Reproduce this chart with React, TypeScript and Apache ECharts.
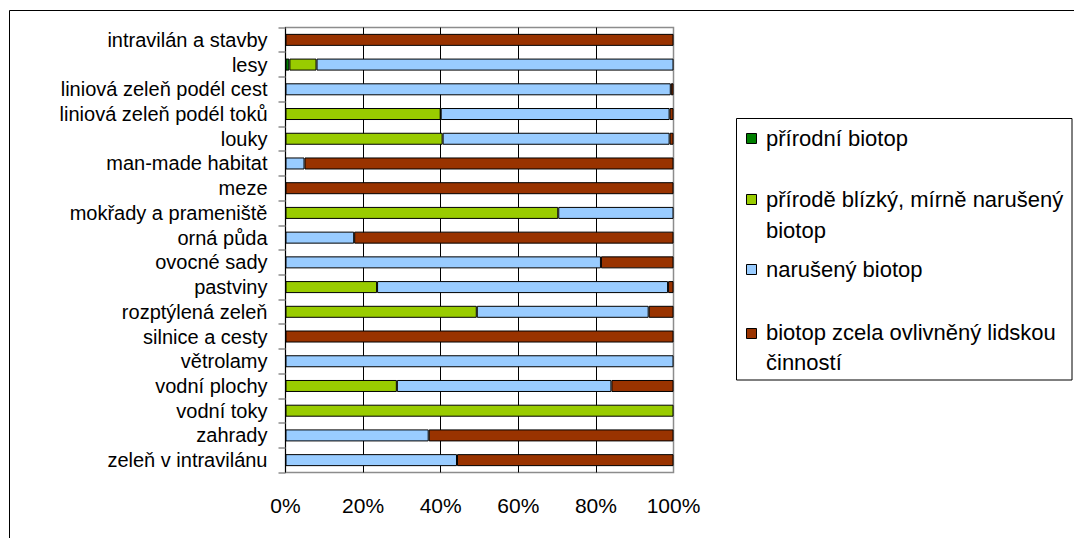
import React, { useEffect, useRef } from "react";
import * as echarts from "echarts";

// Land-use categories (top to bottom)
const categories = [
  "intravilán a stavby",
  "lesy",
  "liniová zeleň podél cest",
  "liniová zeleň podél toků",
  "louky",
  "man-made habitat",
  "meze",
  "mokřady a prameniště",
  "orná půda",
  "ovocné sady",
  "pastviny",
  "rozptýlená zeleň",
  "silnice a cesty",
  "větrolamy",
  "vodní plochy",
  "vodní toky",
  "zahrady",
  "zeleň v intravilánu",
];

const seriesNames = [
  "přírodní biotop",
  "přírodě blízký, mírně narušený biotop",
  "narušený biotop",
  "biotop zcela ovlivněný lidskou činností",
];

// Share of each biotope class, in percent
const prirodni = [0, 1, 0, 0, 0, 0, 0, 0, 0, 0, 0, 0, 0, 0, 0, 0, 0, 0];
const blizky = [0, 7, 0, 40, 40.5, 0, 0, 70.3, 0, 0, 23.6, 49.3, 0, 0, 28.7, 100, 0, 0];
const naruseny = [0, 92, 99.3, 59, 58.5, 4.9, 0, 29.7, 17.7, 81.3, 75, 44.3, 0, 100, 55.3, 0, 36.9, 44.2];
const zcela = [100, 0, 0.7, 1, 1, 95.1, 100, 0, 82.3, 18.7, 1.4, 6.4, 100, 0, 16, 0, 63.1, 55.8];

const xTicks = [0, 20, 40, 60, 80, 100];

const colors = ["#007F00", "#99CC00", "#99CCFF", "#993300"];

const FONT = "'Liberation Sans', Arial, sans-serif";
const FS = 21;
const CAT_FS = 20;
const LEGEND_FS = 22;

export default function App() {
  const ref = useRef<HTMLDivElement>(null);

  useEffect(() => {
    if (!ref.current) return;
    const chart = echarts.init(ref.current, null, { renderer: "svg" });
    const values = [prirodni, blizky, naruseny, zcela];

    // Legend drawn as a framed block on the right
    const legendX = 746;
    const textX = 766;
    const legendLines: { y: number; text: string }[] = [
      { y: 138, text: "přírodní biotop" },
      { y: 199, text: "přírodě blízký, mírně narušený" },
      { y: 230.5, text: "biotop" },
      { y: 269, text: "narušený biotop" },
      { y: 332.5, text: "biotop zcela ovlivněný lidskou" },
      { y: 362, text: "činností" },
    ];
    const iconY = [138, 199, 269, 332.5];

    const graphic: any[] = [
      {
        type: "rect",
        shape: { x: 9.5, y: 10.5, width: 1200, height: 700 },
        style: { fill: "none", stroke: "#000", lineWidth: 1 },
        silent: true,
        z: -10,
      },
      {
        type: "rect",
        shape: { x: 736.5, y: 118.5, width: 335.5, height: 261.5 },
        style: { fill: "#fff", stroke: "#000", lineWidth: 1 },
        silent: true,
      },
    ];
    iconY.forEach((y, i) => {
      graphic.push({
        type: "rect",
        shape: { x: legendX + 0.5, y: Math.round(y - 5) + 0.5, width: 10, height: 10 },
        style: { fill: colors[i], stroke: "#000", lineWidth: 1 },
        silent: true,
        z: 10,
      });
    });
    legendLines.forEach((l) => {
      graphic.push({
        type: "text",
        x: textX,
        y: l.y,
        style: {
          text: l.text,
          fill: "#000",
          font: `${LEGEND_FS}px ${FONT}`,
          verticalAlign: "middle",
        },
        silent: true,
        z: 10,
      });
    });

    chart.setOption({
      animation: false,
      backgroundColor: "#fff",
      grid: {
        left: 285.5,
        right: 1074 - 673.5,
        top: 27.5,
        bottom: 538 - 472.5,
        show: true,
        borderColor: "#8c8c8c",
        borderWidth: 1.5,
        backgroundColor: "transparent",
        containLabel: false,
      },
      xAxis: {
        type: "value",
        min: xTicks[0],
        max: xTicks[xTicks.length - 1],
        interval: 20,
        axisLine: { show: false },
        axisTick: { show: false },
        axisLabel: {
          formatter: "{value}%",
          color: "#000",
          fontFamily: FONT,
          fontSize: FS,
          margin: 22,
        },
        splitLine: {
          show: true,
          showMinLine: false,
          showMaxLine: false,
          lineStyle: { color: "#000", width: 1 },
        },
      },
      yAxis: {
        type: "category",
        data: categories,
        inverse: true,
        axisLine: { show: true, lineStyle: { color: "#000", width: 1 } },
        axisTick: { show: true, length: 7, lineStyle: { color: "#8c8c8c", width: 1.5 } },
        axisLabel: {
          interval: 0,
          hideOverlap: false,
          color: "#000",
          fontFamily: FONT,
          fontSize: CAT_FS,
          margin: 18,
        },
        splitLine: { show: false },
      },
      series: seriesNames.map((name, i) => ({
        name,
        type: "bar",
        stack: "total",
        barWidth: 12,
        data: values[i].map((v) => (v === 0 ? null : v)),
        itemStyle: { color: colors[i], borderColor: "#000", borderWidth: 1 },
        emphasis: { disabled: true },
      })),
      graphic,
    });

    return () => chart.dispose();
  }, []);

  return (
    <div
      ref={ref}
      style={{ position: "fixed", left: 0, top: 0, width: 1074, height: 538 }}
    />
  );
}
